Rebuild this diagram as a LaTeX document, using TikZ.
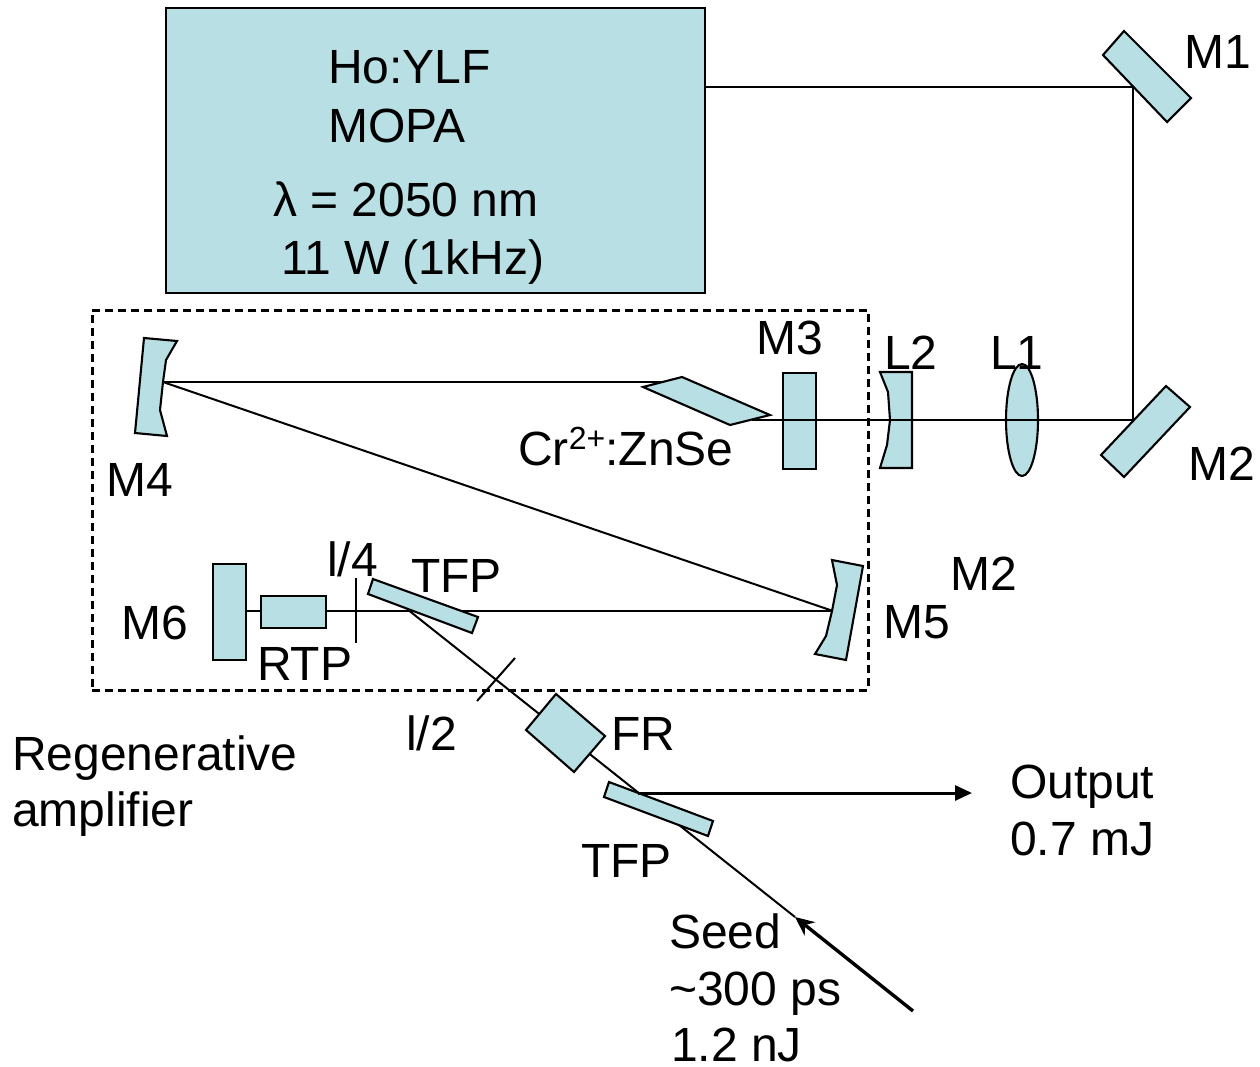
\documentclass[tikz,border=0pt]{standalone}
\usepackage{fontspec}
\setmainfont{Liberation Sans}
\usetikzlibrary{arrows.meta}
\definecolor{optic}{HTML}{B8DFE3}
\tikzset{
  every picture/.style={x=1pt,y=-1pt},
  lbl/.style={anchor=base west,inner sep=0pt,font=\fontsize{48}{56}\selectfont},
  opt/.style={draw=black,fill=optic,line width=2.1pt,line join=miter},
  optbox/.style={opt,rectangle,inner sep=0pt,anchor=north west},
  beam/.style={draw=black,line width=2pt},
  output beam/.style={draw=black,line width=3pt,-{Triangle[length=17pt,width=15pt]}},
  seed beam/.style={draw=black,line width=3.4pt,-{Stealth[length=19pt,width=17pt]}},
  cavity/.style={draw=black,line width=2.8pt,dash pattern=on 8pt off 5pt}
}
\begin{document}
\begin{tikzpicture}
\useasboundingbox (0,0) rectangle (1260,1066);
% named beam points
\coordinate (pA) at (705,87);
\coordinate (pM1) at (1133,87);
\coordinate (pM2) at (1133,420);
\coordinate (pX) at (752,420);
\coordinate (pM4) at (163,382);
\coordinate (pXL) at (664,382);
\coordinate (pM5) at (833,611);
\coordinate (pM6) at (246,611);
\coordinate (pT) at (407,609);
\coordinate (pS) at (795,917);
\coordinate (pOut) at (638,793);
\coordinate (pOutEnd) at (972,793);
\coordinate (pSeed) at (913,1011);
\coordinate (qa) at (356,578);
\coordinate (qb) at (356,643);
\coordinate (ha) at (515,658);
\coordinate (hb) at (477,701);
% cavity
\node[cavity,rectangle,inner sep=0pt,minimum width=776pt,minimum height=380pt,anchor=north west] (cav) at (91,309) {};
% beams beneath optics
\draw[beam] (pA) -- (pM1) -- (pM2);
\draw[beam] (pM4) -- (pXL);
\draw[beam] (pM4) -- (pM5);
\draw[beam] (pM6) -- (pM5);
\draw[beam] (pT) -- (pS);
% laser box
\node[optbox,minimum width=539pt,minimum height=285pt] (mopa) at (165,7) {};
% optics
\draw[opt] (1124,31) -- (1191,98) -- (1167,122) -- (1103,55) -- cycle;
\draw[opt] (1166,386) -- (1190,407) -- (1124,477) -- (1101,455) -- cycle;
\node[optbox,minimum width=33pt,minimum height=96pt] (m3) at (782,372) {};
\draw[opt] (880,372) -- (912,372) -- (912,468) -- (880,468) -- (887,445) -- (890,420) -- (888,392) -- cycle;
\draw[opt] (1022,420) ellipse [x radius=16, y radius=56];
\draw[opt] (682,377) -- (770,415) -- (730,425) -- (643,387) -- cycle;
\draw[opt] (144,338) -- (177,341) -- (166,360) -- (163,382) -- (160,410) -- (167,436) -- (135,433) -- cycle;
\draw[opt] (832,560) -- (863,566) -- (846,660) -- (815,654) -- (826,636) -- (832,611) -- (837,585) -- cycle;
\node[optbox,minimum width=33pt,minimum height=96pt] (m6) at (212,563) {};
\node[optbox,minimum width=65pt,minimum height=32pt] (rtp) at (260,595) {};
\draw[opt] (373,579) -- (478,617) -- (472,633) -- (368,594) -- cycle;
\draw[opt] (556,694) -- (605,736) -- (574,772) -- (526,730) -- cycle;
\draw[opt] (609,782) -- (713,821) -- (708,836) -- (604,797) -- cycle;
% beams above optics
\draw[beam] (pM2) -- (pX);
\draw[beam] (qa) -- (qb);
\draw[beam] (ha) -- (hb);
\draw[output beam] (pOut) -- (pOutEnd);
\draw[seed beam] (pSeed) -- (pS);
% labels
\node[lbl] (t1) at (328,83) {Ho:YLF};
\node[lbl] (t2) at (328,142) {MOPA};
\node[lbl] (t3) at (273,216) {λ = 2050 nm};
\node[lbl] (t4) at (281,274) {11 W (1kHz)};
\node[lbl] (t5) at (1184,68) {M1};
\node[lbl] (t6) at (1188,480) {M2};
\node[lbl] (t7) at (884,369) {L2};
\node[lbl] (t8) at (990,369) {L1};
\node[lbl] (t9) at (756,354) {M3};
\node[lbl] (t10) at (518,465) {Cr\raisebox{16pt}{\fontsize{32}{32}\selectfont 2+}:ZnSe};
\node[lbl] (t11) at (106,496) {M4};
\node[lbl] (t12) at (121,639) {M6};
\node[lbl] (t13) at (257,680) {RTP};
\node[lbl] (t14) at (327,576) {l/4};
\node[lbl] (t15) at (411,592) {TFP};
\node[lbl] (t16) at (950,590) {M2};
\node[lbl] (t17) at (883,638) {M5};
\node[lbl] (t18) at (406,750) {l/2};
\node[lbl] (t19) at (611,750) {FR};
\node[lbl] (t20) at (581,877) {TFP};
\node[lbl] (t21) at (12,770) {Regenerative};
\node[lbl] (t22) at (12,826) {amplifier};
\node[lbl] (t23) at (1010,798) {Output};
\node[lbl] (t24) at (1010,855) {0.7 mJ};
\node[lbl] (t25) at (669,948) {Seed};
\node[lbl] (t26) at (669,1005) {\char`\~300 ps};
\node[lbl] (t27) at (671,1061) {1.2 nJ};
\end{tikzpicture}
\end{document}
